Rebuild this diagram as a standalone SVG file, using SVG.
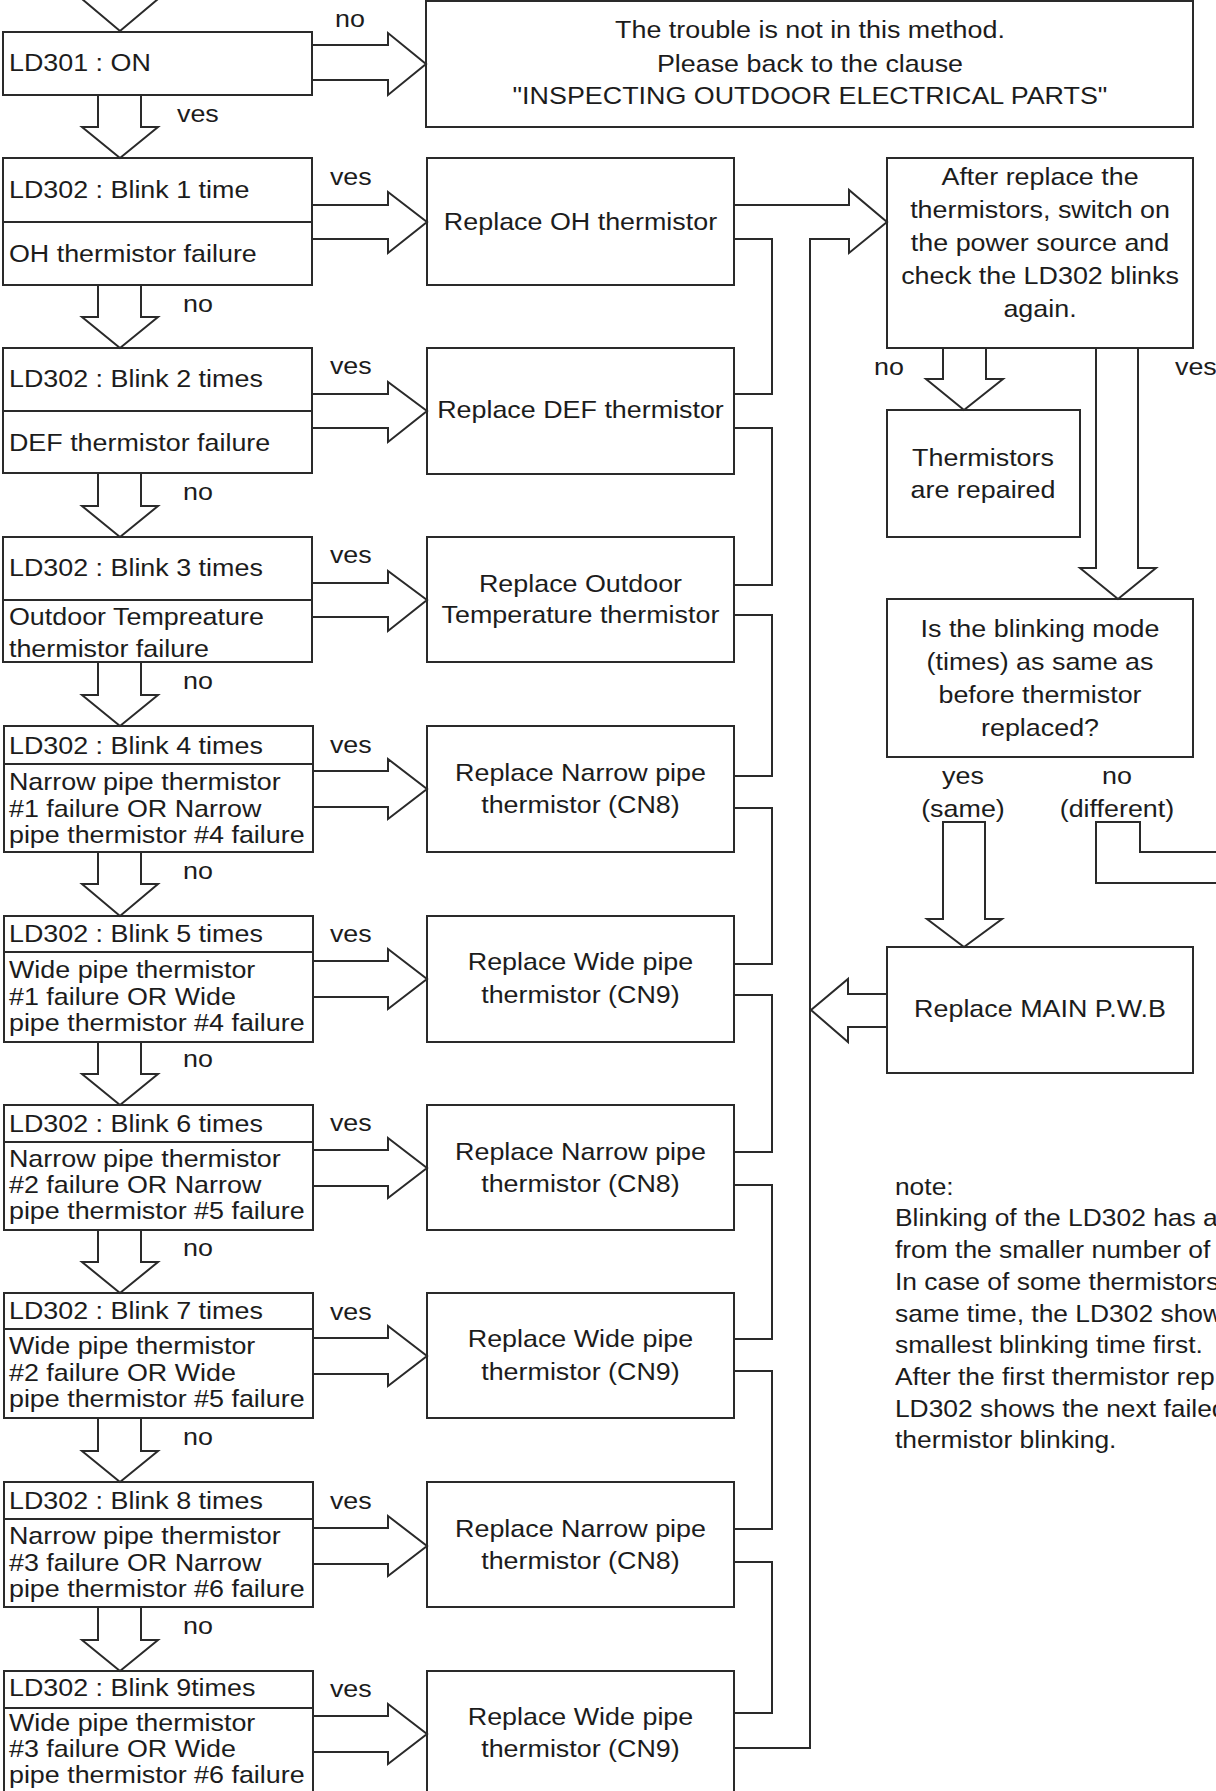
<svg xmlns="http://www.w3.org/2000/svg" width="1216" height="1791" viewBox="0 0 1216 1791">
<style>
.bx{fill:none;stroke:#2a2a2a;stroke-width:2}
.ln{fill:none;stroke:#2a2a2a;stroke-width:2;stroke-linejoin:miter}
text{font-family:"Liberation Sans",Arial,Helvetica,sans-serif;font-size:24px;fill:#1c1c1c}
.c{text-anchor:middle}
</style>
<rect width="1216" height="1791" fill="#ffffff"/>

<g id="connectors">
  <!-- entering arrow at top -->
  <path class="ln" d="M98,-20 V-1 H82 L120,31 L158,-1 H141 V-20"/>
  <!-- LD301 no -> top box -->
  <path class="ln" d="M312,45 H388 V33 L426,64 L388,95 V80 H312"/>
  <!-- down arrows (no / yes) -->
  <path class="ln" d="M98,95 V127 H82 L120,158 L158,127 H141 V95"/>
  <path class="ln" d="M98,285 V317 H82 L120,348 L158,317 H141 V285"/>
  <path class="ln" d="M98,473 V506 H82 L120,537 L158,506 H141 V473"/>
  <path class="ln" d="M98,662 V695 H82 L120,726 L158,695 H141 V662"/>
  <path class="ln" d="M98,852 V884 H82 L120,916 L158,884 H141 V852"/>
  <path class="ln" d="M98,1042 V1074 H82 L120,1105 L158,1074 H141 V1042"/>
  <path class="ln" d="M98,1230 V1262 H82 L120,1293 L158,1262 H141 V1230"/>
  <path class="ln" d="M98,1418 V1451 H82 L120,1482 L158,1451 H141 V1418"/>
  <path class="ln" d="M98,1607 V1640 H82 L120,1671 L158,1640 H141 V1607"/>
  <!-- yes arrows to replace boxes -->
  <path class="ln" d="M312,205 H388 V192 L427,222 L388,253 V239 H312"/>
  <path class="ln" d="M312,394 H388 V382 L427,411 L388,442 V428 H312"/>
  <path class="ln" d="M312,583 H388 V571 L427,600 L388,631 V617 H312"/>
  <path class="ln" d="M312,771 H388 V759 L427,789 L388,819 V807 H312"/>
  <path class="ln" d="M312,961 H388 V949 L427,979 L388,1009 V997 H312"/>
  <path class="ln" d="M312,1150 H388 V1138 L427,1168 L388,1198 V1186 H312"/>
  <path class="ln" d="M312,1338 H388 V1326 L427,1356 L388,1386 V1374 H312"/>
  <path class="ln" d="M312,1528 H388 V1516 L427,1546 L388,1576 V1564 H312"/>
  <path class="ln" d="M312,1716 H388 V1704 L427,1734 L388,1764 V1752 H312"/>
  <!-- collector serpentine -->
  <path class="ln" d="M734,239 H772 V394 H734"/>
  <path class="ln" d="M734,428 H772 V585 H734"/>
  <path class="ln" d="M734,615 H772 V776 H734"/>
  <path class="ln" d="M734,808 H772 V964 H734"/>
  <path class="ln" d="M734,995 H772 V1152 H734"/>
  <path class="ln" d="M734,1185 H772 V1339 H734"/>
  <path class="ln" d="M734,1371 H772 V1529 H734"/>
  <path class="ln" d="M734,1562 H772 V1713 H734"/>
  <!-- main pipe to After box -->
  <path class="ln" d="M734,205 H849 V190 L887,222 L849,253 V239 H810 V1748 H734"/>
  <!-- PWB arrow back -->
  <path class="ln" d="M887,994 H848 V979 L811,1010 L848,1042 V1027 H887"/>
  <!-- After box: no -->
  <path class="ln" d="M943,348 V379 H926 L964,410 L1003,379 H986 V348"/>
  <!-- After box: yes -->
  <path class="ln" d="M1096,348 V568 H1080 L1118,599 L1156,568 H1138 V348"/>
  <!-- question: yes (same) -->
  <path class="ln" d="M964,947 L927,919 H943 V822 H985 V919 H1002 Z"/>
  <!-- question: no (different) -->
  <path class="ln" d="M1218,883 H1096 V822 H1140 V852 H1218"/>

  <g transform="scale(1.12 1)">
    <text x="299.1" y="27">no</text>
    <text x="158" y="122">ves</text>
    <text x="294.6" y="185">ves</text>
    <text x="163.4" y="312">no</text>
    <text x="294.6" y="374">ves</text>
    <text x="163.4" y="500">no</text>
    <text x="294.6" y="563">ves</text>
    <text x="163.4" y="689">no</text>
    <text x="294.6" y="753">ves</text>
    <text x="163.4" y="879">no</text>
    <text x="294.6" y="942">ves</text>
    <text x="163.4" y="1067">no</text>
    <text x="294.6" y="1131">ves</text>
    <text x="163.4" y="1256">no</text>
    <text x="294.6" y="1320">ves</text>
    <text x="163.4" y="1445">no</text>
    <text x="294.6" y="1509">ves</text>
    <text x="163.4" y="1634">no</text>
    <text x="294.6" y="1697">ves</text>
    <text x="780.4" y="375">no</text>
    <text x="1049.1" y="375">ves</text>
    <text class="c" x="859.8" y="784">yes</text>
    <text class="c" x="859.8" y="817">(same)</text>
    <text class="c" x="997.3" y="784">no</text>
    <text class="c" x="997.3" y="817">(different)</text>
  </g>
</g>

<g id="ld301">
  <rect class="bx" x="3" y="32" width="309" height="63"/>
  <g transform="scale(1.12 1)"><text x="8" y="71">LD301 : ON</text></g>
</g>

<g id="trouble">
  <rect class="bx" x="426" y="1" width="767" height="126"/>
  <g transform="scale(1.12 1)">
    <text class="c" x="723.2" y="38">The trouble is not in this method.</text>
    <text class="c" x="723.2" y="72">Please back to the clause</text>
    <text class="c" x="723.2" y="104">"INSPECTING OUTDOOR ELECTRICAL PARTS"</text>
  </g>
</g>

<g id="blink1">
  <rect class="bx" x="3" y="158" width="309" height="127"/>
  <line class="ln" x1="3" y1="222" x2="312" y2="222"/>
  <g transform="scale(1.12 1)">
    <text x="8" y="198">LD302 : Blink 1 time</text>
    <text x="8" y="262">OH thermistor failure</text>
  </g>
</g>
<g id="blink2">
  <rect class="bx" x="3" y="348" width="309" height="125"/>
  <line class="ln" x1="3" y1="411" x2="312" y2="411"/>
  <g transform="scale(1.12 1)">
    <text x="8" y="387">LD302 : Blink 2 times</text>
    <text x="8" y="451">DEF thermistor failure</text>
  </g>
</g>
<g id="blink3">
  <rect class="bx" x="3" y="537" width="309" height="125"/>
  <line class="ln" x1="3" y1="600" x2="312" y2="600"/>
  <g transform="scale(1.12 1)">
    <text x="8" y="576">LD302 : Blink 3 times</text>
    <text x="8" y="625">Outdoor Tempreature</text>
    <text x="8" y="657">thermistor failure</text>
  </g>
</g>
<g id="blink4">
  <rect class="bx" x="4" y="726" width="309" height="126"/>
  <line class="ln" x1="4" y1="764" x2="313" y2="764"/>
  <g transform="scale(1.12 1)">
    <text x="8" y="754">LD302 : Blink 4 times</text>
    <text x="8" y="790">Narrow pipe thermistor</text>
    <text x="8" y="817">#1 failure OR Narrow</text>
    <text x="8" y="843">pipe thermistor #4 failure</text>
  </g>
</g>
<g id="blink5">
  <rect class="bx" x="4" y="916" width="309" height="126"/>
  <line class="ln" x1="4" y1="952" x2="313" y2="952"/>
  <g transform="scale(1.12 1)">
    <text x="8" y="942">LD302 : Blink 5 times</text>
    <text x="8" y="978">Wide pipe thermistor</text>
    <text x="8" y="1005">#1 failure OR Wide</text>
    <text x="8" y="1031">pipe thermistor #4 failure</text>
  </g>
</g>
<g id="blink6">
  <rect class="bx" x="4" y="1105" width="309" height="125"/>
  <line class="ln" x1="4" y1="1142" x2="313" y2="1142"/>
  <g transform="scale(1.12 1)">
    <text x="8" y="1132">LD302 : Blink 6 times</text>
    <text x="8" y="1167">Narrow pipe thermistor</text>
    <text x="8" y="1193">#2 failure OR Narrow</text>
    <text x="8" y="1219">pipe thermistor #5 failure</text>
  </g>
</g>
<g id="blink7">
  <rect class="bx" x="4" y="1293" width="309" height="125"/>
  <line class="ln" x1="4" y1="1329" x2="313" y2="1329"/>
  <g transform="scale(1.12 1)">
    <text x="8" y="1319">LD302 : Blink 7 times</text>
    <text x="8" y="1354">Wide pipe thermistor</text>
    <text x="8" y="1381">#2 failure OR Wide</text>
    <text x="8" y="1407">pipe thermistor #5 failure</text>
  </g>
</g>
<g id="blink8">
  <rect class="bx" x="4" y="1482" width="309" height="125"/>
  <line class="ln" x1="4" y1="1519" x2="313" y2="1519"/>
  <g transform="scale(1.12 1)">
    <text x="8" y="1509">LD302 : Blink 8 times</text>
    <text x="8" y="1544">Narrow pipe thermistor</text>
    <text x="8" y="1571">#3 failure OR Narrow</text>
    <text x="8" y="1597">pipe thermistor #6 failure</text>
  </g>
</g>
<g id="blink9">
  <rect class="bx" x="4" y="1671" width="309" height="126"/>
  <line class="ln" x1="4" y1="1708" x2="313" y2="1708"/>
  <g transform="scale(1.12 1)">
    <text x="8" y="1696">LD302 : Blink 9times</text>
    <text x="8" y="1731">Wide pipe thermistor</text>
    <text x="8" y="1757">#3 failure OR Wide</text>
    <text x="8" y="1783">pipe thermistor #6 failure</text>
  </g>
</g>

<g id="rep1">
  <rect class="bx" x="427" y="158" width="307" height="127"/>
  <g transform="scale(1.12 1)"><text class="c" x="518.3" y="230">Replace OH thermistor</text></g>
</g>
<g id="rep2">
  <rect class="bx" x="427" y="348" width="307" height="126"/>
  <g transform="scale(1.12 1)"><text class="c" x="518.3" y="418">Replace DEF thermistor</text></g>
</g>
<g id="rep3">
  <rect class="bx" x="427" y="537" width="307" height="125"/>
  <g transform="scale(1.12 1)">
    <text class="c" x="518.3" y="592">Replace Outdoor</text>
    <text class="c" x="518.3" y="623">Temperature thermistor</text>
  </g>
</g>
<g id="rep4">
  <rect class="bx" x="427" y="726" width="307" height="126"/>
  <g transform="scale(1.12 1)">
    <text class="c" x="518.3" y="781">Replace Narrow pipe</text>
    <text class="c" x="518.3" y="813">thermistor (CN8)</text>
  </g>
</g>
<g id="rep5">
  <rect class="bx" x="427" y="916" width="307" height="126"/>
  <g transform="scale(1.12 1)">
    <text class="c" x="518.3" y="970">Replace Wide pipe</text>
    <text class="c" x="518.3" y="1003">thermistor (CN9)</text>
  </g>
</g>
<g id="rep6">
  <rect class="bx" x="427" y="1105" width="307" height="125"/>
  <g transform="scale(1.12 1)">
    <text class="c" x="518.3" y="1160">Replace Narrow pipe</text>
    <text class="c" x="518.3" y="1192">thermistor (CN8)</text>
  </g>
</g>
<g id="rep7">
  <rect class="bx" x="427" y="1293" width="307" height="125"/>
  <g transform="scale(1.12 1)">
    <text class="c" x="518.3" y="1347">Replace Wide pipe</text>
    <text class="c" x="518.3" y="1380">thermistor (CN9)</text>
  </g>
</g>
<g id="rep8">
  <rect class="bx" x="427" y="1482" width="307" height="125"/>
  <g transform="scale(1.12 1)">
    <text class="c" x="518.3" y="1537">Replace Narrow pipe</text>
    <text class="c" x="518.3" y="1569">thermistor (CN8)</text>
  </g>
</g>
<g id="rep9">
  <rect class="bx" x="427" y="1671" width="307" height="126"/>
  <g transform="scale(1.12 1)">
    <text class="c" x="518.3" y="1725">Replace Wide pipe</text>
    <text class="c" x="518.3" y="1757">thermistor (CN9)</text>
  </g>
</g>

<g id="after">
  <rect class="bx" x="887" y="158" width="306" height="190"/>
  <g transform="scale(1.12 1)">
    <text class="c" x="928.6" y="185">After replace the</text>
    <text class="c" x="928.6" y="218">thermistors, switch on</text>
    <text class="c" x="928.6" y="251">the power source and</text>
    <text class="c" x="928.6" y="284">check the LD302 blinks</text>
    <text class="c" x="928.6" y="317">again.</text>
  </g>
</g>
<g id="repaired">
  <rect class="bx" x="887" y="410" width="193" height="127"/>
  <g transform="scale(1.12 1)">
    <text class="c" x="877.7" y="466">Thermistors</text>
    <text class="c" x="877.7" y="498">are repaired</text>
  </g>
</g>
<g id="question">
  <rect class="bx" x="887" y="599" width="306" height="158"/>
  <g transform="scale(1.12 1)">
    <text class="c" x="928.6" y="637">Is the blinking mode</text>
    <text class="c" x="928.6" y="670">(times) as same as</text>
    <text class="c" x="928.6" y="703">before thermistor</text>
    <text class="c" x="928.6" y="736">replaced?</text>
  </g>
</g>
<g id="pwb">
  <rect class="bx" x="887" y="947" width="306" height="126"/>
  <g transform="scale(1.12 1)"><text class="c" x="928.6" y="1017">Replace MAIN P.W.B</text></g>
</g>

<g id="note">
  <g transform="scale(1.1 1)">
    <text x="813.6" y="1195">note:</text>
    <text x="813.6" y="1226">Blinking of the LD302 has a</text>
    <text x="813.6" y="1258">from the smaller number of</text>
    <text x="813.6" y="1290">In case of some thermistors</text>
    <text x="813.6" y="1322">same time, the LD302 show</text>
    <text x="813.6" y="1353">smallest blinking time first.</text>
    <text x="813.6" y="1385">After the first thermistor rep</text>
    <text x="813.6" y="1417">LD302 shows the next failed</text>
    <text x="813.6" y="1448">thermistor blinking.</text>
  </g>
</g>
</svg>
